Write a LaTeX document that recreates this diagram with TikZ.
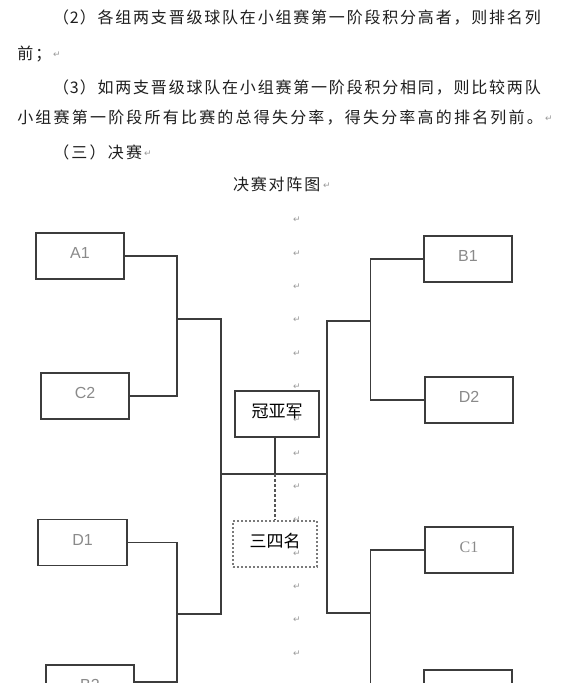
\documentclass[tikz,border=0pt]{standalone}
\usepackage{fontspec}
\setmainfont{Liberation Sans}
\newfontfamily\cjk{Noto Sans CJK SC}
\newfontfamily\symfont{DejaVu Sans}
\newfontfamily\seriflab{Liberation Serif}
\definecolor{bodycol}{HTML}{1E1E1E}
\definecolor{markcol}{HTML}{9A9A9A}
\definecolor{labcol}{HTML}{8A8A8A}
\definecolor{linecol}{HTML}{3C3C3C}
\definecolor{dashcol}{HTML}{7A7A7A}
\definecolor{dashcoltwo}{HTML}{555555}
\newlength\cellw
\setlength\cellw{18.2pt}
\def\gridcells#1{\gridloop#1\relax}
\def\gridloop#1{\ifx\relax#1\else\makebox[\cellw]{#1}\expandafter\gridloop\fi}
\tikzset{
  txt/.style={anchor=west, inner sep=0pt, text=bodycol, font=\cjk\fontsize{16}{18}\selectfont, text height=13.3pt, text depth=1pt},
  pmark/.style={inner sep=0pt, text=markcol, font=\symfont\fontsize{9}{9}\selectfont},
  team/.style={draw=linecol, line width=1.4pt, minimum width=88pt, minimum height=46pt, inner sep=0pt, text=labcol, font=\fontsize{16}{16}\selectfont, text height=11.5pt, text depth=6pt},
  finalbox/.style={draw=linecol, line width=1.4pt, minimum width=84pt, minimum height=46pt, inner sep=0pt, text=black, font=\cjk\fontsize{17}{17}\selectfont, text height=12pt, text depth=6pt},
  thirdbox/.style={finalbox, draw=dashcol, dash pattern=on 2pt off 2pt, line width=1.2pt},
  conn/.style={draw=linecol, line width=1.4pt}
}
\begin{document}
\begin{tikzpicture}[x=1pt,y=-1pt]
\fill[white] (0,0) rectangle (569,683);
\useasboundingbox (0,0) rectangle (569,683);
\clip (0,0) rectangle (569,683);
% text lines
\node[txt] (t1) at (51.9,17) {\setlength\cellw{17.8pt}\makebox[\cellw]{（}\makebox[9pt]{2}\gridcells{）各组两支晋级球队在小组赛第一阶段积分高者，则排名列}};
\node[txt] (t2) at (16,53) {\gridcells{前；}};
\node[pmark] (p2) at (57,55) {↵};
\node[txt] (t3) at (51.9,87) {\setlength\cellw{17.8pt}\makebox[\cellw]{（}\makebox[9pt]{3}\gridcells{）如两支晋级球队在小组赛第一阶段积分相同，则比较两队}};
\node[txt] (t4) at (16,117) {\gridcells{小组赛第一阶段所有比赛的总得失分率，得失分率高的排名列前。}};
\node[pmark] (p4) at (549,119) {↵};
\node[txt] (t5) at (52,152) {\gridcells{（三）决赛}};
\node[pmark] (p5) at (148,154) {↵};
\node[txt] (t6) at (232,184) {\setlength\cellw{17.8pt}\gridcells{决赛对阵图}};
\node[pmark] (p6) at (327,186) {↵};
% paragraph marks column
\foreach \k in {0,...,14} \node[pmark] (pm\k) at (297,{220+33.33*\k}) {↵};
% team boxes
\node[team] (A1) at (80,256) {A1};
\node[team] (C2) at (85,396) {C2};
\node[team, minimum width=89pt] (D1) at (82.5,542.5) {D1};
\node[team] (B2) at (90,688) {B2};
\node[team] (B1) at (468,259) {B1};
\node[team] (D2) at (469,400) {D2};
\node[team, font=\seriflab\fontsize{16}{16}\selectfont] (C1) at (469,550) {C1};
\node[team] (A2) at (468,693) {A2};
\node[finalbox] (champ) at (277,414) {冠亚军};
\node[thirdbox] (third) at (275,544) {三四名};
% junctions
\coordinate (jL1) at (177,319);
\coordinate (jL2) at (177,614);
\coordinate (cL) at (221,474);
\coordinate (cR) at (327,474);
\coordinate (jR1) at (370.5,321);
\coordinate (jR2) at (370.5,613);
\coordinate (cM) at (third.north |- cL);
\coordinate (cTop) at (third.north |- champ.south);
% connectors
\draw[conn] (A1.east) -| (jL1) |- (C2.east);
\draw[conn] (D1.east) -| (jL2) |- ([yshift=6pt]B2.east);
\draw[conn] (jL1) -| (cL) |- (jL2);
\draw[conn] (B1.west) -| (jR1) |- (D2.west);
\draw[conn] (C1.west) -| (jR2) |- (A2.west);
\draw[conn] (jR1) -| (cR) |- (jR2);
\draw[conn] (cL) -- (cR);
\draw[conn] (cTop) -- (cM);
\draw[conn, draw=dashcoltwo, dash pattern=on 3pt off 2pt] (cM) -- (third.north);
\end{tikzpicture}
\end{document}
